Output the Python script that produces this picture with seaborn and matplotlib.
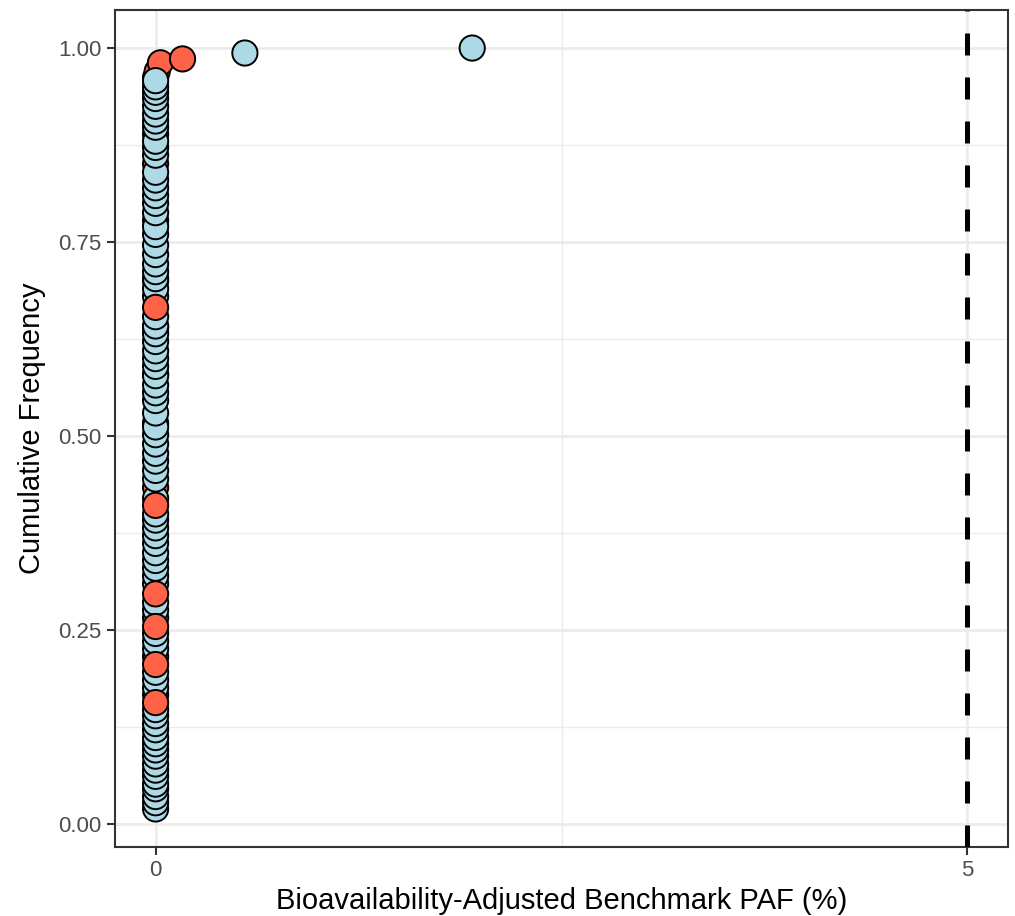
import matplotlib
matplotlib.use("Agg")
import matplotlib.pyplot as plt
from matplotlib.ticker import FixedLocator
import seaborn as sns
import pandas as pd

# ---- data ----
# red points drawn underneath (partly hidden)
red_under_y = [0.167, 0.216, 0.434, 0.517, 0.580, 0.640, 0.700, 0.778, 0.851, 0.889, 0.962, 0.970, 0.981]
red_under_x = [0.0, 0.0, 0.0, 0.0, 0.0, 0.0, 0.0, 0.0, 0.0, 0.0, 0.0, 0.01, 0.03]

blue_y = [0.020, 0.028, 0.036, 0.046, 0.052, 0.062, 0.070, 0.078, 0.088, 0.096,
          0.104, 0.112, 0.122, 0.130, 0.140, 0.148, 0.176, 0.186, 0.196, 0.226,
          0.236, 0.246, 0.266, 0.276, 0.286, 0.310, 0.320, 0.330, 0.340, 0.350,
          0.362, 0.372, 0.382, 0.392, 0.400, 0.420, 0.445, 0.456, 0.468, 0.478,
          0.490, 0.502, 0.512, 0.530, 0.546, 0.556, 0.566, 0.578, 0.590, 0.600,
          0.610, 0.622, 0.632, 0.642, 0.654, 0.680, 0.690, 0.703, 0.712, 0.722,
          0.734, 0.746, 0.760, 0.770, 0.788, 0.800, 0.810, 0.820, 0.830, 0.840,
          0.862, 0.872, 0.880, 0.898, 0.906, 0.915, 0.925, 0.935, 0.943, 0.950,
          0.958, 0.9936, 1.000]
blue_x = [0.0] * 81 + [0.55, 1.95]

# red points drawn on top
red_over_y = [0.157, 0.206, 0.255, 0.297, 0.411, 0.666, 0.986]
red_over_x = [0.0, 0.0, 0.0, 0.0, 0.0, 0.0, 0.166]

benchmark = 5

df = pd.DataFrame({
    "paf": red_under_x + blue_x + red_over_x,
    "cumfreq": red_under_y + blue_y + red_over_y,
    "group": ["A"] * len(red_under_y) + ["B"] * len(blue_y) + ["A"] * len(red_over_y),
})

# ---- plotting ----
sns.set_style("white")
plt.rcParams["font.family"] = ["Liberation Sans", "DejaVu Sans"]

fig = plt.figure(figsize=(10.15, 9.16), dpi=100)
ax = fig.add_axes([115 / 1015, 1 - 847 / 916, (1008 - 115) / 1015, (847 - 10) / 916])

sns.scatterplot(data=df, x="paf", y="cumfreq", hue="group",
                palette={"A": "#FF6347", "B": "#ADD8E6"},
                s=330, edgecolor="black", linewidth=1.4, legend=False,
                ax=ax, zorder=3)

ax.axvline(benchmark, color="black", linewidth=3.6, linestyle=(0, (4.4, 4.4)), zorder=4)

ax.set_xlim(-0.25, 5.25)
ax.set_ylim(-0.029, 1.049)

ax.xaxis.set_major_locator(FixedLocator([0, 5]))
ax.xaxis.set_minor_locator(FixedLocator([2.5]))
ax.yaxis.set_major_locator(FixedLocator([0, 0.25, 0.5, 0.75, 1.0]))
ax.yaxis.set_minor_locator(FixedLocator([0.125, 0.375, 0.625, 0.875]))
ax.set_xticklabels(["0", "5"])
ax.set_yticklabels(["0.00", "0.25", "0.50", "0.75", "1.00"])

ax.grid(which="major", color="#EBEBEB", linewidth=1.9, zorder=0)
ax.grid(which="minor", color="#EBEBEB", linewidth=0.95, zorder=0)
ax.set_axisbelow(True)

for sp in ax.spines.values():
    sp.set_color("#333333")
    sp.set_linewidth(1.5)
    sp.set_visible(True)

ax.tick_params(which="major", direction="out", length=5.5, width=1.5,
               color="#333333", labelcolor="#4D4D4D", labelsize=16, pad=4,
               bottom=True, left=True)
ax.tick_params(which="minor", length=0)

ax.set_xlabel("Bioavailability-Adjusted Benchmark PAF (%)", fontsize=21, color="black", labelpad=4)
ax.set_ylabel("Cumulative Frequency", fontsize=21, color="black", labelpad=9)

fig.savefig("out.png", dpi=100)
